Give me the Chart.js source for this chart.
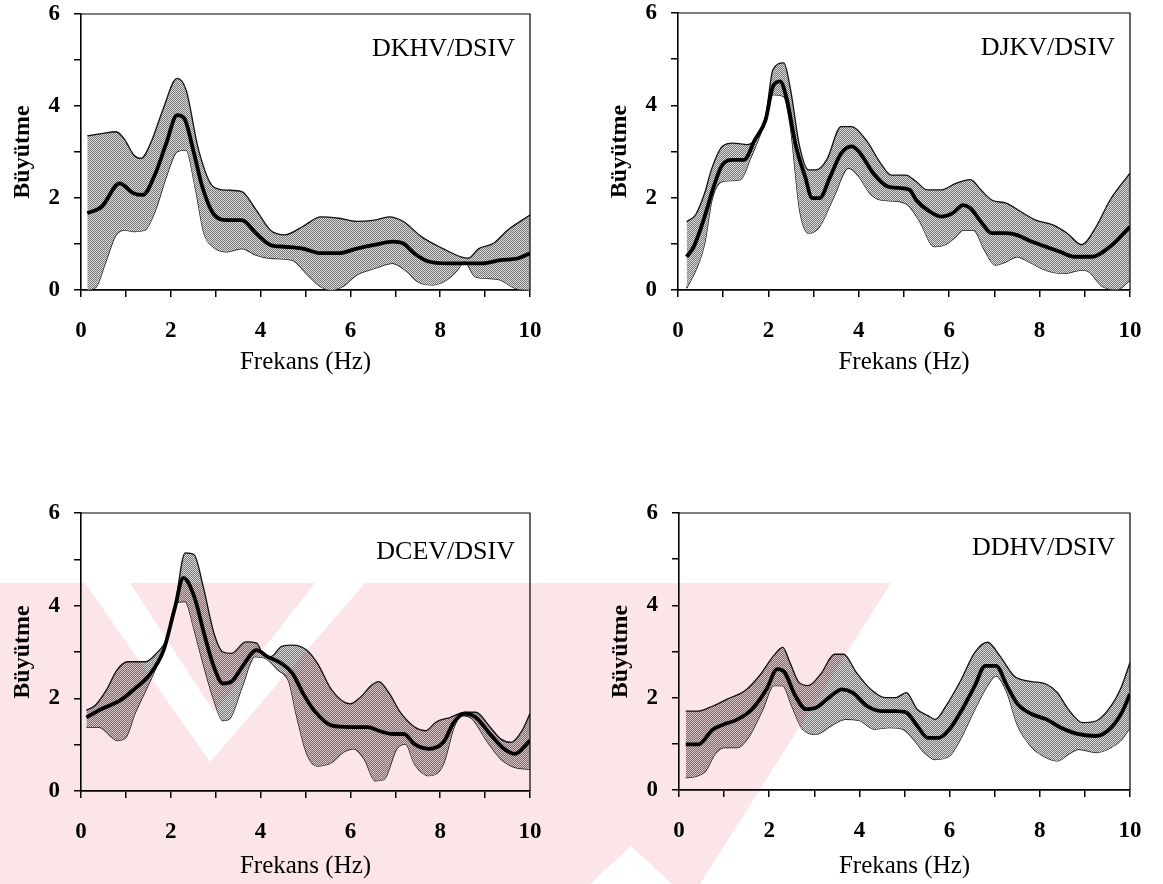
<!DOCTYPE html>
<html lang="tr">
<head>
  <meta charset="UTF-8">
  <title>Büyütme - Frekans</title>
  <script src="https://cdn.jsdelivr.net/npm/chart.js"></script>
  <style>
    html, body { margin: 0; padding: 0; background: #fff; }
    body { width: 1163px; height: 884px; position: relative; overflow: hidden; }
    .panel { position: absolute; }
    #mark { position: absolute; left: 0; top: 0; pointer-events: none; mix-blend-mode: multiply; }
  </style>
</head>
<body>
  <div class="panel" style="left:0px;top:0px"><canvas id="c1" width="560" height="380"></canvas></div>
  <div class="panel" style="left:597px;top:0px"><canvas id="c2" width="563" height="380"></canvas></div>
  <div class="panel" style="left:0px;top:499px"><canvas id="c3" width="560" height="385"></canvas></div>
  <div class="panel" style="left:598px;top:499px"><canvas id="c4" width="562" height="385"></canvas></div>
  <canvas id="mark" width="1163" height="884"></canvas>

  <script>
    // values: [frekans (Hz), büyütme]
    const panelLabels = ['DKHV/DSIV', 'DJKV/DSIV', 'DCEV/DSIV', 'DDHV/DSIV'];
    const xTitle = 'Frekans (Hz)';
    const yTitle = 'Büyütme';

    const dkhvMean = [[0.14,1.67],[0.46,1.81],[0.86,2.32],[1.18,2.1],[1.38,2.07],[1.66,2.54],[1.9,3.19],[2.14,3.8],[2.3,3.73],[2.5,3.04],[2.7,2.25],[2.94,1.67],[3.26,1.52],[3.58,1.52],[3.9,1.23],[4.22,0.98],[4.54,0.94],[4.94,0.9],[5.34,0.8],[5.74,0.8],[6.14,0.9],[6.54,0.98],[6.94,1.05],[7.18,1.01],[7.42,0.8],[7.74,0.62],[8.14,0.58],[8.54,0.58],[8.94,0.58],[9.34,0.65],[9.74,0.69],[10,0.8]];
    const dkhvUpper = [[0.14,3.35],[0.46,3.4],[0.78,3.44],[0.98,3.26],[1.18,2.93],[1.34,2.86],[1.58,3.26],[1.82,3.91],[2.14,4.6],[2.34,4.35],[2.62,3.04],[2.94,2.25],[3.26,2.17],[3.58,2.14],[3.9,1.74],[4.22,1.3],[4.54,1.2],[4.94,1.38],[5.34,1.59],[5.74,1.56],[6.14,1.49],[6.54,1.52],[6.86,1.59],[7.18,1.49],[7.58,1.16],[8.06,0.9],[8.46,0.72],[8.62,0.69],[8.86,0.9],[9.18,1.01],[9.5,1.3],[10,1.63]];
    const dkhvLower = [[0.14,0],[0.34,0.07],[0.54,0.58],[0.78,1.2],[0.98,1.3],[1.18,1.27],[1.42,1.3],[1.66,1.74],[1.9,2.46],[2.14,3.01],[2.34,3.04],[2.54,2.25],[2.74,1.23],[2.94,0.94],[3.26,0.83],[3.58,0.9],[3.9,0.76],[4.22,0.69],[4.7,0.65],[5.02,0.36],[5.34,0.07],[5.58,0],[5.82,0.07],[6.14,0.33],[6.54,0.47],[6.94,0.58],[7.26,0.4],[7.5,0.18],[7.82,0.11],[8.14,0.22],[8.38,0.43],[8.54,0.62],[8.78,0.29],[9.1,0.25],[9.34,0.22],[9.66,0.04],[10,0]];

    const djkvMean = [[0.19,0.72],[0.35,0.94],[0.59,1.59],[0.79,2.24],[0.98,2.71],[1.22,2.82],[1.46,2.82],[1.7,3.25],[1.94,3.69],[2.1,4.41],[2.26,4.52],[2.41,4.12],[2.61,3.11],[2.81,2.46],[2.97,1.99],[3.13,1.99],[3.37,2.46],[3.61,2.96],[3.84,3.11],[4.0,3.0],[4.32,2.53],[4.64,2.24],[4.88,2.21],[5.12,2.17],[5.27,1.95],[5.51,1.74],[5.83,1.59],[6.07,1.66],[6.31,1.84],[6.47,1.77],[6.7,1.48],[6.94,1.23],[7.26,1.23],[7.5,1.19],[7.82,1.05],[8.13,0.94],[8.45,0.83],[8.77,0.72],[9.17,0.72],[9.56,0.94],[10,1.37]];
    const djkvUpper = [[0.19,1.48],[0.39,1.63],[0.59,2.1],[0.75,2.64],[0.98,3.11],[1.22,3.18],[1.54,3.15],[1.78,3.36],[1.94,3.76],[2.1,4.77],[2.34,4.92],[2.49,4.34],[2.69,3.11],[2.89,2.6],[3.05,2.6],[3.29,2.82],[3.61,3.54],[3.84,3.54],[4.16,3.25],[4.48,2.75],[4.72,2.49],[5.04,2.49],[5.27,2.35],[5.51,2.17],[5.83,2.17],[6.15,2.31],[6.47,2.39],[6.7,2.17],[6.94,1.95],[7.26,1.88],[7.58,1.7],[7.9,1.52],[8.29,1.41],[8.61,1.23],[8.93,0.98],[9.25,1.37],[9.56,1.95],[10,2.53]];
    const djkvLower = [[0.19,0.04],[0.43,0.51],[0.59,1.01],[0.75,1.95],[0.98,2.35],[1.38,2.39],[1.62,2.89],[1.86,3.47],[2.1,4.23],[2.34,4.19],[2.49,3.51],[2.69,1.74],[2.89,1.23],[3.13,1.37],[3.45,2.02],[3.77,2.64],[4.0,2.46],[4.24,2.1],[4.48,1.95],[4.88,1.92],[5.12,1.81],[5.35,1.48],[5.67,0.94],[5.91,0.98],[6.15,1.16],[6.31,1.3],[6.54,1.3],[6.78,0.87],[7.02,0.54],[7.26,0.61],[7.5,0.72],[7.82,0.58],[8.13,0.43],[8.53,0.36],[8.93,0.43],[9.08,0.4],[9.4,0.07],[9.72,0.01],[10,0.22]];

    const dcevMean = [[0.12,1.59],[0.48,1.78],[0.88,1.96],[1.2,2.21],[1.52,2.5],[1.84,3.04],[2.08,3.91],[2.28,4.6],[2.52,4.2],[2.76,3.33],[2.96,2.68],[3.16,2.32],[3.35,2.36],[3.59,2.68],[3.91,3.04],[4.15,2.9],[4.47,2.75],[4.71,2.54],[4.95,2.1],[5.19,1.74],[5.59,1.41],[5.99,1.38],[6.39,1.38],[6.63,1.3],[6.95,1.23],[7.19,1.23],[7.43,1.01],[7.75,0.91],[8.07,1.05],[8.31,1.49],[8.55,1.67],[8.79,1.59],[9.11,1.23],[9.42,0.91],[9.66,0.8],[10,1.09]];
    const dcevUpper = [[0.12,1.74],[0.32,1.85],[0.56,2.17],[0.8,2.61],[1.04,2.79],[1.44,2.79],[1.68,2.97],[1.92,3.3],[2.08,3.91],[2.32,5.14],[2.52,5.1],[2.72,4.42],[2.96,3.41],[3.16,3.0],[3.35,2.97],[3.67,3.22],[3.91,3.19],[4.07,2.93],[4.23,2.9],[4.47,3.12],[4.71,3.15],[5.03,3.04],[5.27,2.75],[5.59,2.17],[5.99,1.88],[6.23,2.03],[6.47,2.28],[6.63,2.36],[6.87,2.1],[7.11,1.7],[7.43,1.38],[7.67,1.3],[7.91,1.49],[8.23,1.59],[8.55,1.7],[8.79,1.7],[9.11,1.38],[9.35,1.12],[9.58,1.05],[9.82,1.3],[10,1.67]];
    const dcevLower = [[0.12,1.38],[0.4,1.38],[0.64,1.2],[0.8,1.09],[1.0,1.16],[1.2,1.67],[1.44,2.17],[1.68,2.68],[1.92,3.33],[2.12,4.06],[2.32,4.09],[2.52,3.48],[2.72,2.75],[2.96,1.96],[3.16,1.52],[3.31,1.56],[3.59,2.25],[3.87,2.9],[4.11,2.86],[4.39,2.61],[4.63,2.36],[4.79,1.67],[5.03,0.8],[5.27,0.54],[5.59,0.62],[5.83,0.83],[6.07,0.91],[6.31,0.69],[6.55,0.22],[6.75,0.25],[7.03,0.91],[7.23,1.01],[7.43,0.58],[7.75,0.33],[8.07,0.58],[8.31,1.38],[8.47,1.63],[8.71,1.56],[9.03,1.09],[9.35,0.69],[9.66,0.51],[10,0.47]];

    const ddhvMean = [[0.15,0.99],[0.43,0.99],[0.75,1.31],[0.99,1.42],[1.3,1.53],[1.62,1.75],[1.94,2.18],[2.18,2.62],[2.34,2.55],[2.58,2.04],[2.82,1.75],[3.05,1.79],[3.37,2.04],[3.61,2.18],[3.85,2.11],[4.17,1.82],[4.49,1.71],[4.81,1.71],[5.04,1.68],[5.28,1.39],[5.52,1.13],[5.76,1.13],[6.0,1.32],[6.24,1.68],[6.56,2.26],[6.79,2.69],[7.03,2.69],[7.27,2.26],[7.51,1.86],[7.83,1.64],[8.15,1.53],[8.47,1.35],[8.86,1.21],[9.26,1.17],[9.58,1.35],[9.82,1.68],[10,2.08]];
    const ddhvUpper = [[0.15,1.71],[0.43,1.71],[0.75,1.82],[1.07,1.97],[1.46,2.15],[1.78,2.47],[2.1,2.91],[2.3,3.09],[2.46,2.76],[2.66,2.33],[2.86,2.26],[3.14,2.51],[3.45,2.94],[3.65,2.94],[3.93,2.55],[4.25,2.18],[4.57,2.0],[4.81,2.0],[5.04,2.11],[5.28,1.75],[5.52,1.61],[5.68,1.53],[5.92,1.82],[6.24,2.36],[6.56,2.98],[6.84,3.2],[7.11,2.91],[7.43,2.47],[7.75,2.36],[8.15,2.29],[8.39,2.11],[8.63,1.75],[8.95,1.46],[9.26,1.5],[9.58,1.82],[9.82,2.26],[10,2.76]];
    const ddhvLower = [[0.15,0.27],[0.39,0.3],[0.59,0.41],[0.79,0.77],[0.99,0.92],[1.3,0.92],[1.54,1.14],[1.86,1.75],[2.1,2.26],[2.3,2.26],[2.5,1.82],[2.74,1.32],[3.05,1.21],[3.37,1.39],[3.69,1.53],[4.01,1.5],[4.33,1.32],[4.65,1.35],[4.96,1.32],[5.2,1.1],[5.44,0.81],[5.68,0.66],[6.0,0.74],[6.24,1.1],[6.56,1.75],[6.84,2.26],[7.03,2.47],[7.27,2.11],[7.51,1.39],[7.83,0.92],[8.15,0.7],[8.39,0.63],[8.63,0.77],[8.86,0.88],[9.26,0.81],[9.58,0.92],[9.82,1.1],[10,1.35]];

    const serif = '"Liberation Serif", "Times New Roman", serif';

    // dotted grey fill like the scanned band
    function stipple() {
      const c = document.createElement('canvas');
      c.width = 2; c.height = 2;
      const g = c.getContext('2d');
      g.fillStyle = '#d8d8d8'; g.fillRect(0, 0, 2, 2);
      g.fillStyle = '#7a7a7a'; g.fillRect(0, 0, 1, 1); g.fillRect(1, 1, 1, 1);
      return g.createPattern(c, 'repeat');
    }

    const framePlugin = {
      id: 'frame',
      afterDraw(chart, args, opts) {
        const { ctx, chartArea: a } = chart;
        ctx.save();
        ctx.strokeStyle = '#000';
        ctx.lineWidth = 1.2;
        ctx.beginPath();
        ctx.moveTo(a.left, a.top); ctx.lineTo(a.right, a.top); ctx.lineTo(a.right, a.bottom);
        ctx.stroke();
        ctx.fillStyle = '#000';
        ctx.font = '26px ' + serif;
        ctx.textAlign = 'right';
        ctx.textBaseline = 'alphabetic';
        ctx.fillText(opts.text, a.right - 15, a.top + opts.dy);
        ctx.restore();
      }
    };

    function makePanel(id, label, upper, lower, mean, padTop, padRight, xHeight, dy) {
      const tickFont = { family: serif, size: 23, weight: 'bold' };
      const evenOnly = v => (v % 2 === 0 ? v : '');
      new Chart(document.getElementById(id), {
        type: 'line',
        data: {
          // mean first so it is drawn above the filled band
          datasets: [
            { data: mean, borderColor: '#000', borderWidth: 3.8, fill: false, borderJoinStyle: 'round',
              pointRadius: 0, cubicInterpolationMode: 'monotone' },
            { data: upper, borderColor: '#111', borderWidth: 1.3, backgroundColor: stipple(), fill: '+1',
              pointRadius: 0, cubicInterpolationMode: 'monotone' },
            { data: lower, borderColor: '#111', borderWidth: 1.3, fill: false,
              pointRadius: 0, cubicInterpolationMode: 'monotone' }
          ]
        },
        options: {
          responsive: false,
          animation: false,
          layout: { padding: { top: padTop, right: padRight, left: 0, bottom: 0 } },
          plugins: { legend: { display: false }, tooltip: { enabled: false }, frame: { text: label, dy: dy } },
          scales: {
            x: {
              type: 'linear', min: 0, max: 10,
              ticks: { stepSize: 1, autoSkip: false, maxRotation: 0, callback: evenOnly,
                       font: tickFont, color: '#000', padding: 20 },
              grid: { drawOnChartArea: false, drawTicks: true, tickLength: 7, color: '#000', lineWidth: 1.5 },
              border: { display: true, color: '#000', width: 1.8 },
              title: { display: true, text: xTitle, color: '#000',
                       font: { family: serif, size: 25 }, padding: { top: 0, bottom: 3 } },
              afterFit: s => { s.height = xHeight; s.paddingLeft = 0; s.paddingRight = 0; }
            },
            y: {
              min: 0, max: 6,
              ticks: { stepSize: 1, autoSkip: false, callback: evenOnly,
                       font: tickFont, color: '#000', padding: 14 },
              grid: { drawOnChartArea: false, drawTicks: true, tickLength: 7, color: '#000', lineWidth: 1.5 },
              border: { display: true, color: '#000', width: 1.6 },
              title: { display: true, text: yTitle, color: '#000',
                       font: { family: serif, size: 24, weight: 'bold' }, padding: { top: 8, bottom: 0 } },
              afterFit: s => { s.width = 81; s.paddingTop = 0; s.paddingBottom = 0; }
            }
          }
        },
        plugins: [framePlugin]
      });
    }

    makePanel('c1', panelLabels[0], dkhvUpper, dkhvLower, dkhvMean, 14, 30, 90, 42);
    makePanel('c2', panelLabels[1], djkvUpper, djkvLower, djkvMean, 13, 30, 90, 42);
    makePanel('c3', panelLabels[2], dcevUpper, dcevLower, dcevMean, 14, 30, 93, 46);
    makePanel('c4', panelLabels[3], ddhvUpper, ddhvLower, ddhvMean, 14, 30, 94, 42);

    // faint pink watermark of the scanned page, multiplied over the figure
    (function () {
      const g = document.getElementById('mark').getContext('2d');
      const poly = (pts, col) => {
        g.fillStyle = col;
        g.beginPath();
        pts.forEach((p, i) => (i ? g.lineTo(p[0], p[1]) : g.moveTo(p[0], p[1])));
        g.closePath();
        g.fill();
      };
      poly([[0, 583], [891, 583], [700, 884], [0, 884]], 'rgb(252,229,233)');
      poly([[85, 583], [130, 583], [214, 712], [315, 583], [365, 583], [210, 762]], '#fff');
      poly([[590, 884], [631, 846], [672, 884]], '#fff');
    })();
  </script>
</body>
</html>
